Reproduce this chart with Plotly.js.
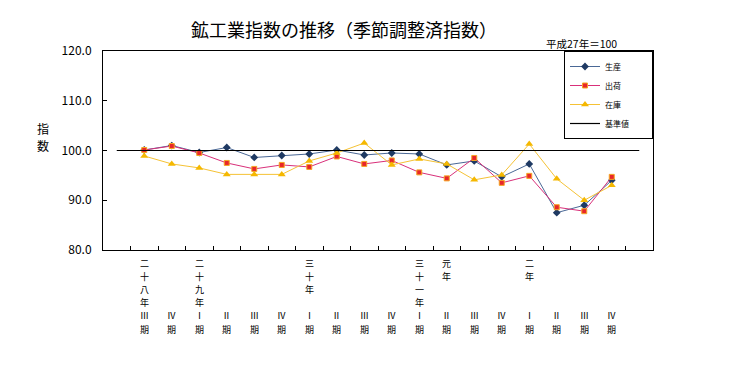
<!DOCTYPE html>
<html><head><meta charset="utf-8">
<script src="https://cdn.plot.ly/plotly-3.0.1.min.js"></script>
<style>body{margin:0;background:#fff}#c{width:746px;height:369px}</style>
</head><body><div id="c"></div>
<script>
const years = ["二十八年","","二十九年","","","","三十年","","","","三十一年","元年","","","二年","","",""];
const quarters = ["Ⅲ","Ⅳ","Ⅰ","Ⅱ","Ⅲ","Ⅳ","Ⅰ","Ⅱ","Ⅲ","Ⅳ","Ⅰ","Ⅱ","Ⅲ","Ⅳ","Ⅰ","Ⅱ","Ⅲ","Ⅳ"];
const seriesNames = ["生産","出荷","在庫","基準値"];
const production = [100.1,101.0,99.6,100.6,98.6,99.0,99.3,100.1,99.1,99.5,99.3,97.1,97.9,94.7,97.3,87.5,89.0,94.0];
const shipments  = [100.1,100.9,99.5,97.5,96.3,97.1,96.7,98.8,97.3,98.0,95.6,94.4,98.5,93.5,94.9,88.6,87.8,94.7];
const inventory  = [98.9,97.3,96.5,95.2,95.2,95.2,97.9,99.5,101.5,97.1,98.3,97.3,94.1,95.1,101.3,94.3,90.0,93.0];
const baseValue = 100;

const NB = "\u00a0";
const pad = NB.repeat(10);
const idx = quarters.map((_, i) => i);
const bounds = quarters.map((_, i) => i - 0.5).concat([quarters.length - 0.5]);
const font = "'Noto Sans CJK JP', 'Noto Sans', sans-serif";

// category labels as stacked rows (vertical Japanese text)
const rowStart = 13, rowGap = 13.2, labelSize = 9;
const labelAnns = [];
quarters.forEach((q, i) => {
  const rows = Array.from(years[i]);
  while (rows.length < 4) rows.push("");
  rows.push(q, "期");
  rows.forEach((ch, r) => {
    if (!ch) return;
    labelAnns.push({text: ch, xref: "x", yref: "paper", x: i, y: 0, xanchor: "center", yanchor: "middle",
      yshift: -(rowStart + r * rowGap), showarrow: false, borderpad: 0,
      font: {size: labelSize, family: font, color: "#000"}});
  });
});

const traces = [
  {x: idx, y: production, name: seriesNames[0] + pad, type: "scatter", mode: "lines+markers",
   line: {color: "#4a6896", width: 1}, marker: {symbol: "diamond", size: 6, color: "#1f3a63"}},
  {x: idx, y: shipments, name: seriesNames[1] + pad, type: "scatter", mode: "lines+markers",
   line: {color: "#d9307a", width: 1}, marker: {symbol: "square", size: 5, color: "#e8262a", line: {color: "#f5a623", width: 1}}},
  {x: idx, y: inventory, name: seriesNames[2] + pad, type: "scatter", mode: "lines+markers",
   line: {color: "#f5c235", width: 1}, marker: {symbol: "triangle-up", size: 7, color: "#f5b800"}},
  {x: [-1, quarters.length], y: [baseValue, baseValue], name: seriesNames[3] + pad, type: "scatter", mode: "lines",
   xaxis: "x2", line: {color: "#000", width: 1.2}}
];

const layout = {
  width: 746, height: 369,
  margin: {l: 103, r: 93, t: 51, b: 119},
  paper_bgcolor: "#fff", plot_bgcolor: "#fff",
  font: {family: font, color: "#000"},
  title: {text: "鉱工業指数の推移（季節調整済指数）", font: {size: 18, family: font},
          x: 344/746, xanchor: "center", y: 1 - 31/369, yanchor: "middle"},
  showlegend: true,
  legend: {x: 1, xanchor: "right", y: 1, yanchor: "top", bordercolor: "#000", borderwidth: 1,
           font: {size: 8, family: font}, bgcolor: "#fff", tracegroupgap: 0},
  xaxis: {range: [-1.5, quarters.length + 0.5], tickmode: "array", tickvals: idx,
          ticks: "", showticklabels: false, showgrid: false, zeroline: false, showline: true, mirror: true,
          linecolor: "#000", fixedrange: true},
  xaxis2: {overlaying: "x", anchor: "y", side: "bottom", range: [-1.5, quarters.length + 0.5],
           tickmode: "array", tickvals: bounds, ticks: "inside", ticklen: 4, tickcolor: "#000",
           showticklabels: false, showgrid: false, zeroline: false, showline: false},
  yaxis: {range: [80, 120], dtick: 10, tick0: 80, tickformat: ".1f", ticks: "inside", ticklen: 4,
          tickcolor: "#000", showgrid: false, zeroline: false, showline: true, mirror: true,
          linecolor: "#000", tickfont: {size: 12, family: font}, ticklabelstandoff: 8},
  annotations: [
    {text: "平成27年＝100", xref: "paper", yref: "paper", x: (581-103)/550, xanchor: "center",
     y: 1 + 8/199, yanchor: "middle", showarrow: false, font: {size: 10.5, family: font}},
    {text: "指", xref: "paper", yref: "paper", x: -60/550, xanchor: "center",
     y: (250-128)/199, yanchor: "middle", showarrow: false, borderpad: 0, font: {size: 12, family: font}},
    {text: "数", xref: "paper", yref: "paper", x: -60/550, xanchor: "center",
     y: (250-145)/199, yanchor: "middle", showarrow: false, borderpad: 0, font: {size: 12, family: font}}
  ].concat(labelAnns)
};
Plotly.newPlot("c", traces, layout, {displayModeBar: false, staticPlot: true});
</script></body></html>
